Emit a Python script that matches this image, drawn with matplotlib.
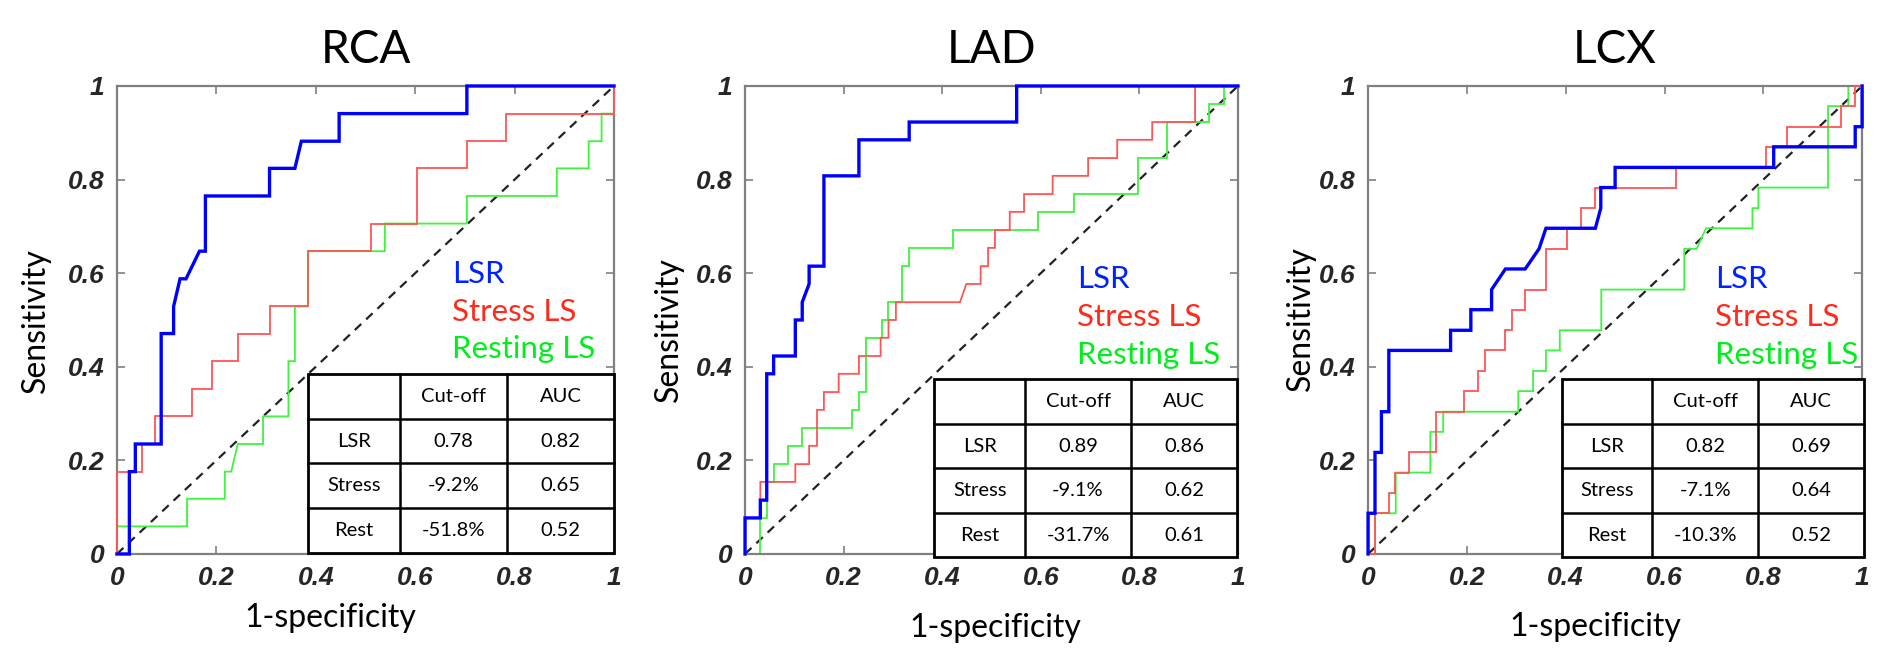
import matplotlib
matplotlib.use("Agg")
import matplotlib.pyplot as plt
from matplotlib.patches import Rectangle

# ---------------- data ----------------
titles = ["RCA", "LAD", "LCX"]
series_names = ["LSR", "Stress LS", "Resting LS"]
tick_vals = [0, 0.2, 0.4, 0.6, 0.8, 1]
tick_labels = ["0", "0.2", "0.4", "0.6", "0.8", "1"]

table_header = ["", "Cut-off", "AUC"]
table_rows = ["LSR", "Stress", "Rest"]
cutoffs = [["0.78", "-9.2%", "-51.8%"],
           ["0.89", "-9.1%", "-31.7%"],
           ["0.82", "-7.1%", "-10.3%"]]
aucs = [["0.82", "0.65", "0.52"],
        ["0.86", "0.62", "0.61"],
        ["0.69", "0.64", "0.52"]]

# ROC curves: (1-specificity, sensitivity) vertices
rca_lsr = [(0, 0), (0.025, 0), (0.025, 0.176), (0.037, 0.176), (0.037, 0.235), (0.089, 0.235),
           (0.089, 0.471), (0.114, 0.471), (0.114, 0.529), (0.127, 0.588), (0.139, 0.588),
           (0.166, 0.647), (0.178, 0.647), (0.178, 0.765), (0.307, 0.765), (0.307, 0.824),
           (0.358, 0.824), (0.371, 0.882), (0.447, 0.882), (0.447, 0.941), (0.704, 0.941),
           (0.704, 1.0), (1.0, 1.0)]
rca_stress = [(0, 0), (0, 0.176), (0.05, 0.176), (0.05, 0.235), (0.076, 0.235), (0.076, 0.294),
              (0.152, 0.294), (0.152, 0.353), (0.191, 0.353), (0.191, 0.412), (0.243, 0.412),
              (0.243, 0.471), (0.307, 0.471), (0.307, 0.529), (0.384, 0.529), (0.384, 0.647),
              (0.511, 0.647), (0.511, 0.706), (0.603, 0.706), (0.603, 0.824), (0.704, 0.824),
              (0.704, 0.882), (0.783, 0.882), (0.783, 0.941), (1.0, 0.941), (1.0, 1.0)]
rca_rest = [(0, 0), (0, 0.059), (0.141, 0.059), (0.141, 0.118), (0.217, 0.118), (0.217, 0.176),
            (0.230, 0.176), (0.243, 0.235), (0.294, 0.235), (0.294, 0.294), (0.345, 0.294),
            (0.345, 0.412), (0.358, 0.412), (0.358, 0.529), (0.384, 0.529), (0.384, 0.647),
            (0.539, 0.647), (0.539, 0.706), (0.704, 0.706), (0.704, 0.765), (0.885, 0.765),
            (0.885, 0.824), (0.949, 0.824), (0.949, 0.882), (0.975, 0.882), (0.975, 0.941),
            (1.0, 0.941), (1.0, 1.0)]

lad_lsr = [(0, 0), (0, 0.077), (0.031, 0.077), (0.031, 0.115), (0.044, 0.115), (0.044, 0.385),
           (0.058, 0.385), (0.058, 0.423), (0.102, 0.423), (0.102, 0.5), (0.116, 0.5),
           (0.116, 0.538), (0.130, 0.577), (0.130, 0.615), (0.160, 0.615), (0.160, 0.808),
           (0.231, 0.808), (0.231, 0.885), (0.333, 0.885), (0.333, 0.923), (0.551, 0.923),
           (0.551, 1.0), (1.0, 1.0)]
lad_stress = [(0, 0), (0, 0.077), (0.031, 0.077), (0.031, 0.154), (0.102, 0.154), (0.102, 0.192),
              (0.130, 0.192), (0.130, 0.231), (0.146, 0.231), (0.146, 0.308), (0.160, 0.308),
              (0.160, 0.346), (0.190, 0.346), (0.190, 0.385), (0.231, 0.385), (0.231, 0.423),
              (0.275, 0.423), (0.275, 0.462), (0.291, 0.462), (0.291, 0.5), (0.306, 0.5),
              (0.306, 0.538), (0.436, 0.538), (0.449, 0.577), (0.478, 0.577), (0.478, 0.615),
              (0.493, 0.615), (0.493, 0.654), (0.507, 0.654), (0.507, 0.692), (0.537, 0.692),
              (0.537, 0.731), (0.566, 0.731), (0.566, 0.769), (0.624, 0.769), (0.624, 0.808),
              (0.696, 0.808), (0.696, 0.846), (0.755, 0.846), (0.755, 0.885), (0.826, 0.885),
              (0.826, 0.923), (0.913, 0.923), (0.913, 1.0), (1.0, 1.0)]
lad_rest = [(0, 0), (0.031, 0), (0.031, 0.077), (0.044, 0.077), (0.044, 0.154), (0.058, 0.154),
            (0.058, 0.192), (0.087, 0.192), (0.087, 0.231), (0.116, 0.231), (0.116, 0.269),
            (0.217, 0.269), (0.217, 0.308), (0.231, 0.308), (0.231, 0.346), (0.246, 0.346),
            (0.246, 0.462), (0.277, 0.462), (0.277, 0.5), (0.291, 0.5), (0.291, 0.538),
            (0.318, 0.538), (0.318, 0.615), (0.333, 0.615), (0.333, 0.654), (0.421, 0.654),
            (0.421, 0.692), (0.595, 0.692), (0.595, 0.731), (0.667, 0.731), (0.667, 0.769),
            (0.798, 0.769), (0.798, 0.846), (0.855, 0.846), (0.855, 0.923), (0.942, 0.923),
            (0.942, 0.962), (0.971, 0.962), (0.971, 1.0), (1.0, 1.0)]

lcx_lsr = [(0, 0), (0, 0.087), (0.014, 0.087), (0.014, 0.217), (0.027, 0.217), (0.027, 0.304),
           (0.042, 0.304), (0.042, 0.435), (0.167, 0.435), (0.167, 0.478), (0.208, 0.478),
           (0.208, 0.522), (0.250, 0.522), (0.250, 0.565), (0.278, 0.609), (0.318, 0.609),
           (0.346, 0.652), (0.360, 0.696), (0.460, 0.696), (0.471, 0.739), (0.471, 0.783),
           (0.500, 0.783), (0.500, 0.826), (0.821, 0.826), (0.821, 0.870), (0.986, 0.870),
           (0.986, 0.913), (1.0, 0.913), (1.0, 1.0)]
lcx_stress = [(0, 0), (0.014, 0), (0.014, 0.087), (0.042, 0.087), (0.042, 0.130), (0.054, 0.130),
              (0.054, 0.174), (0.082, 0.174), (0.082, 0.217), (0.138, 0.217), (0.138, 0.304),
              (0.194, 0.304), (0.194, 0.348), (0.222, 0.348), (0.222, 0.391), (0.236, 0.391),
              (0.236, 0.435), (0.278, 0.435), (0.278, 0.478), (0.292, 0.478), (0.292, 0.522),
              (0.318, 0.522), (0.318, 0.565), (0.360, 0.565), (0.360, 0.652), (0.402, 0.652),
              (0.402, 0.696), (0.430, 0.696), (0.430, 0.739), (0.460, 0.739), (0.460, 0.783),
              (0.624, 0.783), (0.624, 0.826), (0.806, 0.826), (0.806, 0.870), (0.848, 0.870),
              (0.848, 0.913), (0.958, 0.913), (0.958, 0.957), (0.986, 0.957), (0.986, 1.0),
              (1.0, 1.0)]
lcx_rest = [(0, 0), (0.014, 0), (0.014, 0.087), (0.056, 0.087), (0.056, 0.174), (0.126, 0.174),
            (0.126, 0.261), (0.152, 0.261), (0.152, 0.304), (0.304, 0.304), (0.304, 0.348),
            (0.334, 0.348), (0.334, 0.391), (0.360, 0.391), (0.360, 0.435), (0.388, 0.435),
            (0.388, 0.478), (0.472, 0.478), (0.472, 0.565), (0.640, 0.565), (0.640, 0.652),
            (0.665, 0.652), (0.684, 0.696), (0.778, 0.696), (0.778, 0.739), (0.790, 0.739),
            (0.790, 0.783), (0.931, 0.783), (0.931, 0.957), (0.972, 0.957), (0.972, 1.0),
            (1.0, 1.0)]

curves = [[rca_lsr, rca_stress, rca_rest],
          [lad_lsr, lad_stress, lad_rest],
          [lcx_lsr, lcx_stress, lcx_rest]]

# ---------------- style / layout ----------------
line_colors = ["#0000FF", "#FF5555", "#3DF53D"]
line_widths = [2.4, 1.3, 1.3]
text_colors = ["#0022FF", "#FF2A1A", "#00EE1C"]
FONT = ["Lato", "DejaVu Sans"]

axes_rects = [[0.0622, 0.1451, 0.2644, 0.7222],
              [0.3963, 0.1451, 0.2622, 0.7222],
              [0.7277, 0.1451, 0.2628, 0.7222]]
legend_pos = [(0.675, [0.598, 0.517, 0.437]),
              (0.674, [0.588, 0.506, 0.425]),
              (0.702, [0.588, 0.506, 0.425])]
table_box = [(0.385, 0.002, 1.0, 0.385),
             (0.384, -0.007, 0.998, 0.373),
             (0.392, -0.007, 1.004, 0.373)]
col_fracs = [0.0, 0.2995, 0.650, 1.0]
xlabel_pos = [(0.43, -0.137), (0.507, -0.158), (0.46, -0.156)]
ylabel_pos = [(-0.163, 0.498), (-0.154, 0.479), (-0.136, 0.504)]

fig = plt.figure(figsize=(18.8, 6.48), dpi=100)
fig.patch.set_facecolor("white")

for i in range(3):
    ax = fig.add_axes(axes_rects[i])
    ax.set_xlim(0, 1)
    ax.set_ylim(0, 1)
    for s in ax.spines.values():
        s.set_color("#808080")
        s.set_linewidth(1.6)
    ax.set_xticks(tick_vals)
    ax.set_yticks(tick_vals)
    ax.set_xticklabels(tick_labels)
    ax.set_yticklabels(tick_labels)
    ax.tick_params(direction="in", length=6, width=1.2, color="#808080",
                   top=True, right=True, labelcolor="#262626", pad=9)
    for lab in ax.get_xticklabels() + ax.get_yticklabels():
        lab.set_family("Liberation Sans")
        lab.set_fontsize(19)
        lab.set_fontweight("bold")
        lab.set_fontstyle("italic")

    ax.plot([0, 1], [0, 1], linestyle=(0, (4, 3)), color="#222222", linewidth=1.6, zorder=2)
    for k in range(3):
        pts = curves[i][k]
        xs = [p[0] for p in pts]
        ys = [p[1] for p in pts]
        ax.plot(xs, ys, color=line_colors[k], linewidth=line_widths[k],
                zorder=4 - k, clip_on=False, solid_joinstyle="miter")

    # legend-like coloured labels
    lx, lys = legend_pos[i]
    for k in range(3):
        ax.text(lx, lys[k], series_names[k], color=text_colors[k], fontsize=22.5,
                family=FONT, ha="left", va="center", transform=ax.transAxes)

    # table
    x0, y0, x1, y1 = table_box[i]
    w = x1 - x0
    h = y1 - y0
    ax.add_patch(Rectangle((x0, y0), w, h, facecolor="white", edgecolor="black",
                           linewidth=2.0, transform=ax.transAxes, zorder=10, clip_on=False))
    for cf in col_fracs[1:-1]:
        ax.plot([x0 + cf * w, x0 + cf * w], [y0, y1], color="black", linewidth=1.8,
                transform=ax.transAxes, zorder=11, clip_on=False)
    for r in range(1, 4):
        yy = y1 - r * h / 4
        ax.plot([x0, x1], [yy, yy], color="black", linewidth=1.8,
                transform=ax.transAxes, zorder=11, clip_on=False)
    cell_rows = [table_header] + [[table_rows[r], cutoffs[i][r], aucs[i][r]] for r in range(3)]
    for r, row in enumerate(cell_rows):
        yc = y1 - (r + 0.5) * h / 4
        for c, txt in enumerate(row):
            xc = x0 + (col_fracs[c] + col_fracs[c + 1]) / 2 * w
            ax.text(xc, yc, txt, fontsize=14.5, family=FONT, ha="center", va="center",
                    transform=ax.transAxes, zorder=12, color="black")

    ax.text(0.5, 1.077, titles[i], fontsize=33, family=FONT, ha="center", va="center",
            transform=ax.transAxes)
    ax.text(xlabel_pos[i][0], xlabel_pos[i][1], "1-specificity", fontsize=23, family=FONT,
            ha="center", va="center", transform=ax.transAxes)
    ax.text(ylabel_pos[i][0], ylabel_pos[i][1], "Sensitivity", fontsize=23, family=FONT,
            ha="center", va="center", rotation=90, transform=ax.transAxes)

fig.savefig("out.png", dpi=100, facecolor="white")
